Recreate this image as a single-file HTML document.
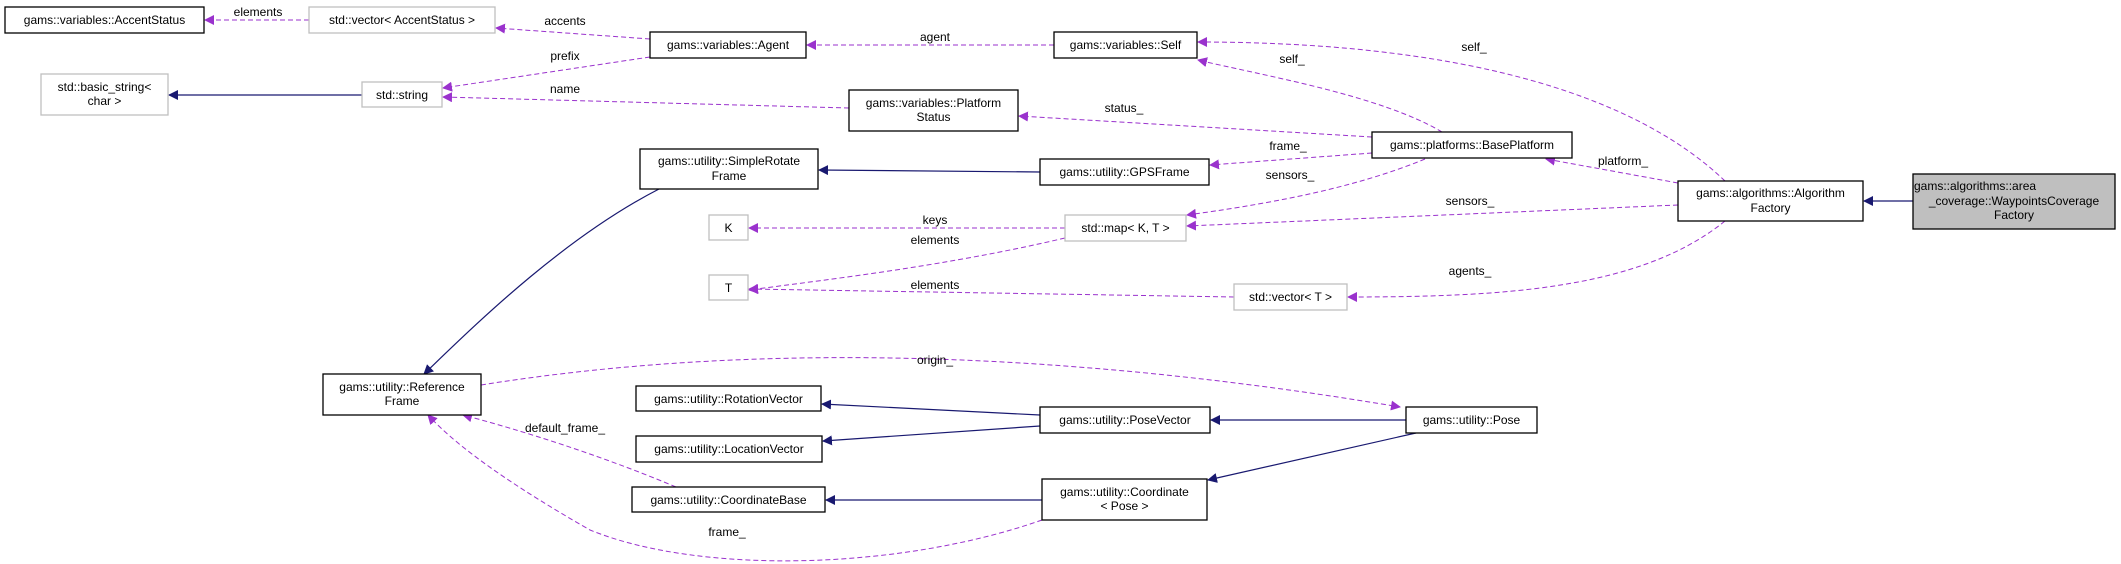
<!DOCTYPE html>
<html><head><meta charset="utf-8"><style>
html,body{margin:0;padding:0;background:#fff;}
svg{display:block;}
text{font-family:"Liberation Sans",Arial,sans-serif;font-size:12px;fill:#000;}
.n{fill:#fff;stroke:#000;stroke-width:1.3;}
.g{fill:#fff;stroke:#bfbfbf;stroke-width:1.3;}
.d{fill:none;stroke:#9a32cd;stroke-width:1;stroke-dasharray:5,3;}
.s{fill:none;stroke:#191970;stroke-width:1.2;}
</style></head><body>
<svg width="2121" height="564" viewBox="0 0 2121 564" xmlns="http://www.w3.org/2000/svg">
<defs>
<marker id="p" markerWidth="10" markerHeight="10" refX="9" refY="5" orient="auto" markerUnits="userSpaceOnUse"><path d="M0,0 L10,5 L0,10 z" fill="#9a32cd"/></marker>
<marker id="b" markerWidth="10" markerHeight="10" refX="9" refY="5" orient="auto" markerUnits="userSpaceOnUse"><path d="M0,0 L10,5 L0,10 z" fill="#191970"/></marker>
</defs>
<!-- edges -->
<g>
<path class="d" marker-end="url(#p)" d="M309,20 L205,20"/>
<path class="d" marker-end="url(#p)" d="M650,39 L496,28"/>
<path class="d" marker-end="url(#p)" d="M650,57 L443,88"/>
<path class="d" marker-end="url(#p)" d="M849,108 L443,97"/>
<path class="s" marker-end="url(#b)" d="M362,95 L169,95"/>
<path class="d" marker-end="url(#p)" d="M1054,45 L807,45"/>
<path class="d" marker-end="url(#p)" d="M1442,132 C1380,95 1260,75 1198,60"/>
<path class="d" marker-end="url(#p)" d="M1725,181 C1630,90 1450,42 1198,42"/>
<path class="d" marker-end="url(#p)" d="M1372,137 L1019,116"/>
<path class="d" marker-end="url(#p)" d="M1372,153 L1210,165"/>
<path class="s" marker-end="url(#b)" d="M1040,172 L819,170"/>
<path class="d" marker-end="url(#p)" d="M1425,159 C1350,190 1260,205 1187,215"/>
<path class="d" marker-end="url(#p)" d="M1678,183 L1546,159"/>
<path class="d" marker-end="url(#p)" d="M1678,205 L1187,226"/>
<path class="d" marker-end="url(#p)" d="M1065,228 L749,228"/>
<path class="d" marker-end="url(#p)" d="M1065,238 C950,265 840,278 749,290"/>
<path class="d" marker-end="url(#p)" d="M1234,297 L749,289"/>
<path class="d" marker-end="url(#p)" d="M1725,221 C1640,290 1500,297 1348,297"/>
<path class="s" marker-end="url(#b)" d="M1913,201 L1864,201"/>
<path class="s" marker-end="url(#b)" d="M659,189 C560,240 470,330 424,374"/>
<path class="d" marker-end="url(#p)" d="M481,385 C700,350 1000,340 1400,407"/>
<path class="s" marker-end="url(#b)" d="M1040,415 L822,404"/>
<path class="s" marker-end="url(#b)" d="M1040,426 L823,441"/>
<path class="s" marker-end="url(#b)" d="M1406,420 L1211,420"/>
<path class="s" marker-end="url(#b)" d="M1416,433 L1208,480"/>
<path class="d" marker-end="url(#p)" d="M676,487 C600,455 520,430 463,415"/>
<path class="s" marker-end="url(#b)" d="M1042,500 L826,500"/>
<path class="d" marker-end="url(#p)" d="M1042,520 C900,570 700,575 590,530 C520,490 460,450 428,415"/>
</g>
<!-- edge labels -->
<g text-anchor="middle">
<text x="258" y="16">elements</text>
<text x="565" y="25">accents</text>
<text x="565" y="60">prefix</text>
<text x="565" y="93">name</text>
<text x="935" y="41">agent</text>
<text x="1292" y="63">self_</text>
<text x="1474" y="51">self_</text>
<text x="1124" y="112">status_</text>
<text x="1288" y="150">frame_</text>
<text x="1290" y="179">sensors_</text>
<text x="1623" y="165">platform_</text>
<text x="1470" y="205">sensors_</text>
<text x="935" y="224">keys</text>
<text x="935" y="244">elements</text>
<text x="935" y="289">elements</text>
<text x="1470" y="275">agents_</text>
<text x="935" y="364">origin_</text>
<text x="565" y="432">default_frame_</text>
<text x="727" y="536">frame_</text>
</g>
<!-- nodes -->
<g text-anchor="middle">
<rect class="n" x="5" y="7" width="199" height="26"/><text x="104.5" y="24">gams::variables::AccentStatus</text>
<rect class="g" x="309" y="7" width="186" height="26"/><text x="402" y="24">std::vector&lt; AccentStatus &gt;</text>
<rect class="n" x="650" y="32" width="156" height="26"/><text x="728" y="49">gams::variables::Agent</text>
<rect class="g" x="41" y="74" width="127" height="41"/><text x="104.5" y="91">std::basic_string&lt;</text><text x="104.5" y="105">char &gt;</text>
<rect class="g" x="362" y="82" width="80" height="25"/><text x="402" y="99">std::string</text>
<rect class="n" x="849" y="90" width="169" height="41"/><text x="933.5" y="107">gams::variables::Platform</text><text x="933.5" y="121">Status</text>
<rect class="n" x="640" y="149" width="178" height="40"/><text x="729" y="165">gams::utility::SimpleRotate</text><text x="729" y="180">Frame</text>
<rect class="g" x="709" y="215" width="39" height="25"/><text x="728.5" y="232">K</text>
<rect class="g" x="709" y="275" width="39" height="25"/><text x="728.5" y="292">T</text>
<rect class="n" x="1054" y="32" width="143" height="26"/><text x="1125.5" y="49">gams::variables::Self</text>
<rect class="n" x="1372" y="132" width="200" height="26"/><text x="1472" y="149">gams::platforms::BasePlatform</text>
<rect class="n" x="1040" y="159" width="169" height="26"/><text x="1124.5" y="176">gams::utility::GPSFrame</text>
<rect class="g" x="1065" y="215" width="121" height="26"/><text x="1125.5" y="232">std::map&lt; K, T &gt;</text>
<rect class="n" x="1678" y="181" width="185" height="40"/><text x="1770.5" y="197">gams::algorithms::Algorithm</text><text x="1770.5" y="212">Factory</text>
<rect x="1913" y="174" width="202" height="55" fill="#bfbfbf" stroke="#000" stroke-width="1.3"/>
<text x="1914" y="190" text-anchor="start">gams::algorithms::area</text>
<text x="2014" y="205">_coverage::WaypointsCoverage</text>
<text x="2014" y="219">Factory</text>
<rect class="n" x="323" y="374" width="158" height="41"/><text x="402" y="391">gams::utility::Reference</text><text x="402" y="405">Frame</text>
<rect class="n" x="636" y="386" width="185" height="25"/><text x="728.5" y="403">gams::utility::RotationVector</text>
<rect class="n" x="636" y="436" width="186" height="26"/><text x="729" y="453">gams::utility::LocationVector</text>
<rect class="n" x="632" y="487" width="193" height="25"/><text x="728.5" y="504">gams::utility::CoordinateBase</text>
<rect class="g" x="1234" y="284" width="113" height="26"/><text x="1290.5" y="301">std::vector&lt; T &gt;</text>
<rect class="n" x="1040" y="407" width="170" height="26"/><text x="1125" y="424">gams::utility::PoseVector</text>
<rect class="n" x="1406" y="407" width="131" height="26"/><text x="1471.5" y="424">gams::utility::Pose</text>
<rect class="n" x="1042" y="479" width="165" height="41"/><text x="1124.5" y="496">gams::utility::Coordinate</text><text x="1124.5" y="510">&lt; Pose &gt;</text>
</g>
</svg>
</body></html>
